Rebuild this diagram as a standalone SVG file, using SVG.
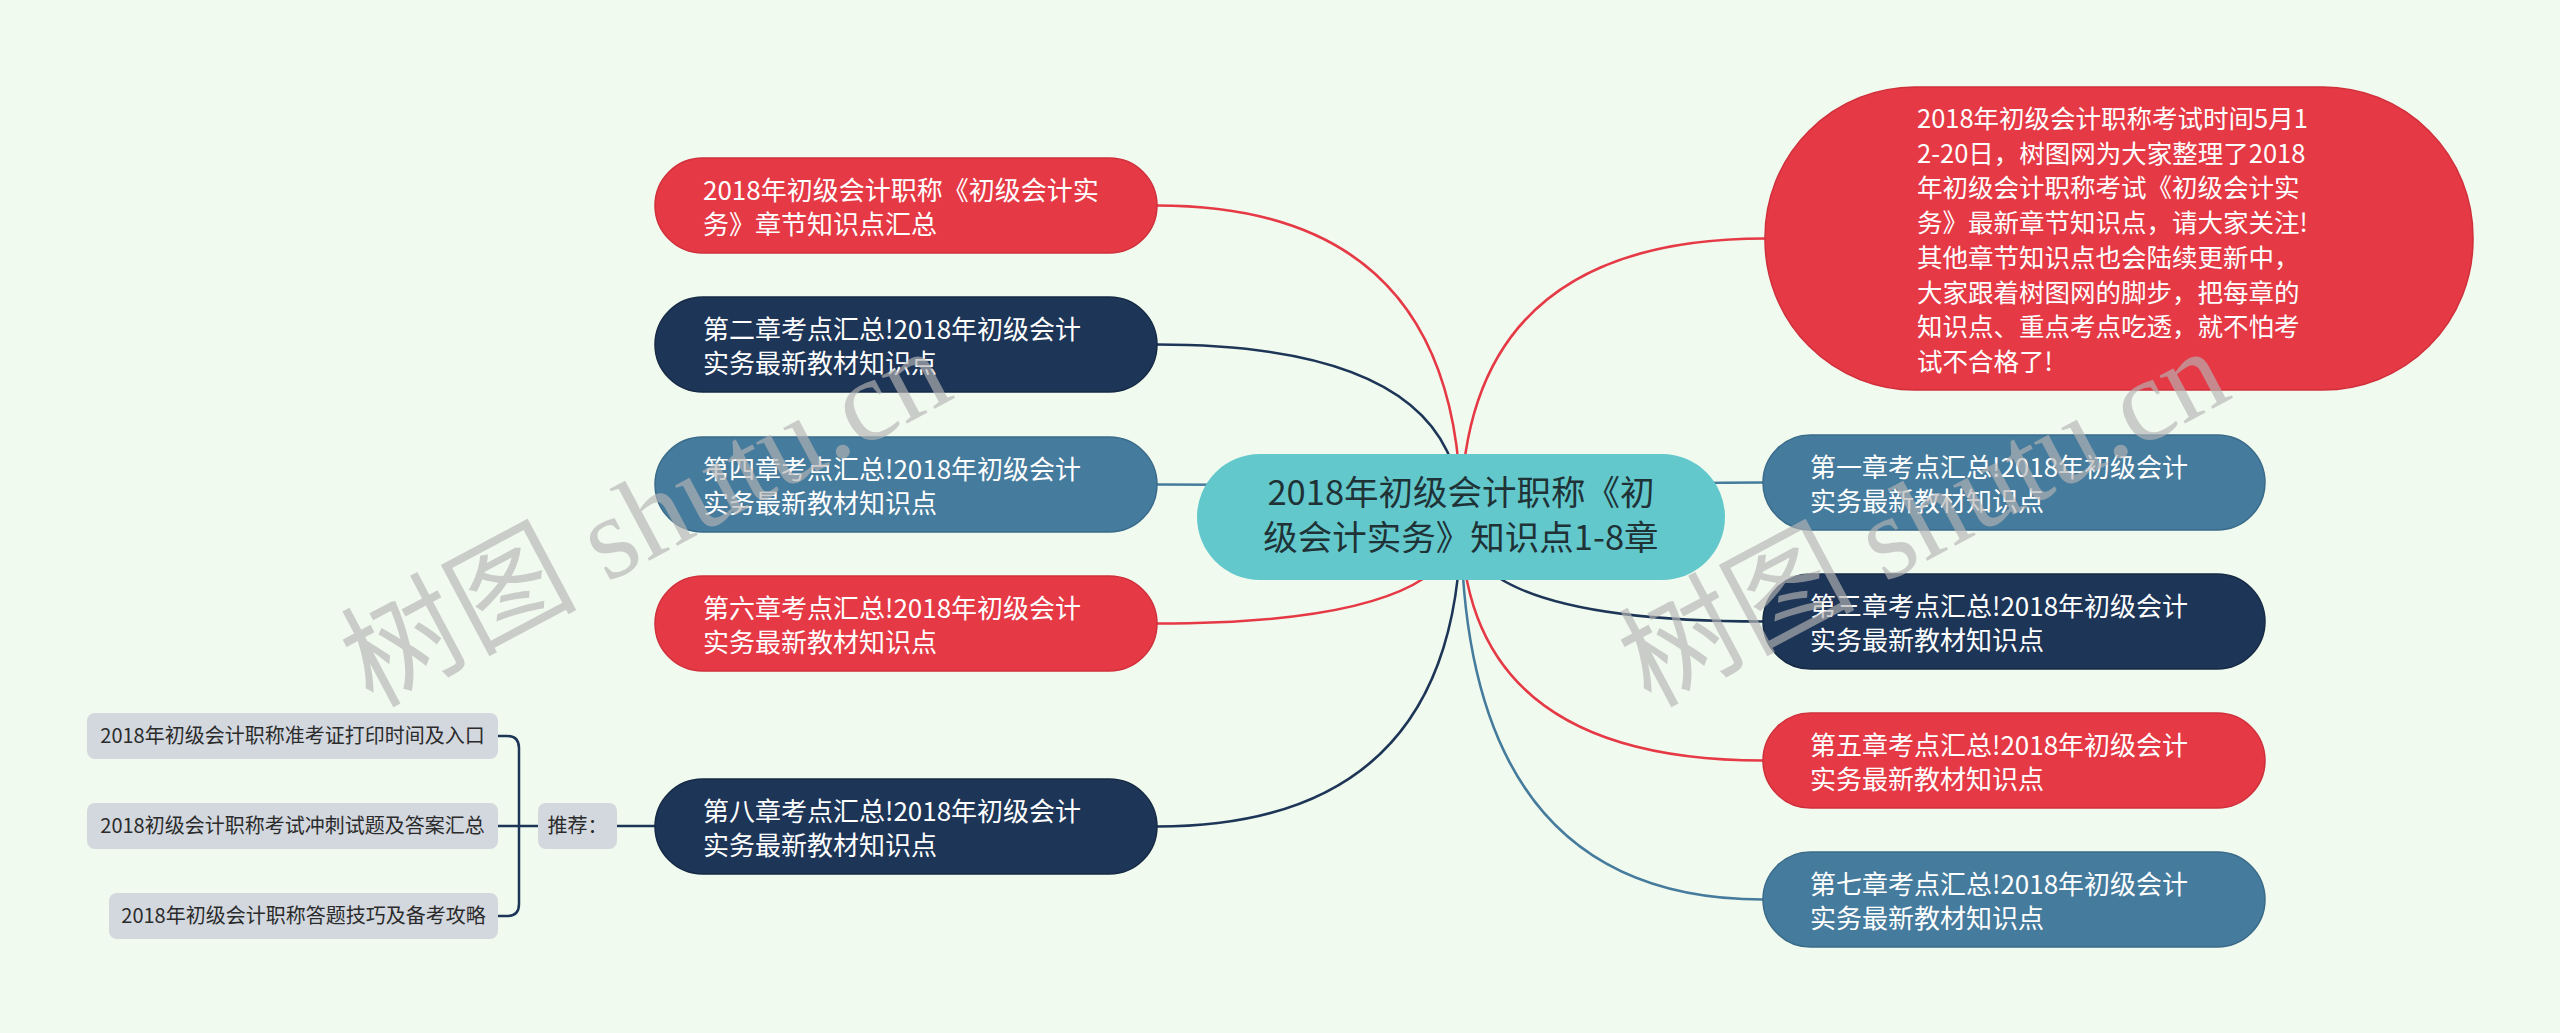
<svg xmlns="http://www.w3.org/2000/svg" width="2560" height="1033" viewBox="0 0 2560 1033">
<style>
.bg{fill:#F1FAEE}
.red{fill:#E63946;stroke:#D0303C;stroke-width:1.5}
.navy{fill:#1D3557;stroke:#162A46;stroke-width:1.5}
.steel{fill:#457B9D;stroke:#3A6B8A;stroke-width:1.5}
.root{fill:#62C8CC}
.gray{fill:#D3D8DF}
.t{font-family:"Noto Sans CJK SC","Noto Sans",sans-serif;font-size:26px;fill:#FFFFFF}
.tb{font-size:25.5px}
.rt{font-family:"Noto Sans CJK SC","Noto Sans",sans-serif;font-size:34.5px;fill:#1F3236;text-anchor:middle}
.gt{font-family:"Noto Sans CJK SC","Noto Sans",sans-serif;font-size:20px;fill:#2B2B2B;text-anchor:middle}
.c{fill:none;stroke-width:2.5}
.cr{stroke:#E63946}.cn{stroke:#1D3557}.cs{stroke:#457B9D}
.wm{font-family:"Liberation Serif","DejaVu Serif","Noto Sans CJK SC",serif;font-size:118px;font-weight:normal;fill:#B5B5B5;opacity:0.65}
</style>
<rect class="bg" x="0" y="0" width="2560" height="1033"/>
<g id="connectors">
<path class="c cr" d="M1461 517 Q1461 205.5 1157 205.5"/>
<path class="c cn" d="M1461 517 Q1461 344.5 1157 344.5"/>
<path class="c cs" d="M1461 517 Q1461 484.5 1157 484.5"/>
<path class="c cr" d="M1461 517 Q1461 623.5 1157 623.5"/>
<path class="c cn" d="M1461 517 Q1461 826.5 1157 826.5"/>
<path class="c cr" d="M1461 517 Q1461 238.5 1765 238.5"/>
<path class="c cs" d="M1461 517 Q1461 482.5 1763 482.5"/>
<path class="c cn" d="M1461 517 Q1461 621.5 1763 621.5"/>
<path class="c cr" d="M1461 517 Q1461 760.5 1763 760.5"/>
<path class="c cs" d="M1461 517 Q1461 899.5 1763 899.5"/>
<path class="c cn" d="M617 826 H655"/>
<path class="c cn" d="M538 826 H498"/>
<path class="c cn" d="M498 736 H507 Q519 736 519 748 V904 Q519 916 507 916 H498"/>
</g>
<g id="root">
<rect class="root" x="1197" y="454" width="528" height="126" rx="63"/>
<text class="rt" x="1461" y="505">2018年初级会计职称《初</text>
<text class="rt" x="1461" y="550">级会计实务》知识点1-8章</text>
</g>
<g id="n1">
<rect class="red" x="655" y="158" width="502" height="95" rx="47.5"/>
<text class="t" x="703" y="199.5">2018年初级会计职称《初级会计实</text>
<text class="t" x="703" y="233.5">务》章节知识点汇总</text>
</g>
<g id="n2">
<rect class="navy" x="655" y="297" width="502" height="95" rx="47.5"/>
<text class="t" x="703" y="338.5">第二章考点汇总!2018年初级会计</text>
<text class="t" x="703" y="372.5">实务最新教材知识点</text>
</g>
<g id="n4">
<rect class="steel" x="655" y="437" width="502" height="95" rx="47.5"/>
<text class="t" x="703" y="478.5">第四章考点汇总!2018年初级会计</text>
<text class="t" x="703" y="512.5">实务最新教材知识点</text>
</g>
<g id="n6">
<rect class="red" x="655" y="576" width="502" height="95" rx="47.5"/>
<text class="t" x="703" y="617.5">第六章考点汇总!2018年初级会计</text>
<text class="t" x="703" y="651.5">实务最新教材知识点</text>
</g>
<g id="n8">
<rect class="navy" x="655" y="779" width="502" height="95" rx="47.5"/>
<text class="t" x="703" y="820.5">第八章考点汇总!2018年初级会计</text>
<text class="t" x="703" y="854.5">实务最新教材知识点</text>
</g>
<g id="big">
<rect class="red" x="1765" y="87" width="708" height="303" rx="150"/>
<text class="t tb" x="1917" y="128">2018年初级会计职称考试时间5月1</text>
<text class="t tb" x="1917" y="162.7">2-20日，树图网为大家整理了2018</text>
<text class="t tb" x="1917" y="197.4">年初级会计职称考试《初级会计实</text>
<text class="t tb" x="1917" y="232.1">务》最新章节知识点，请大家关注!</text>
<text class="t tb" x="1917" y="266.8">其他章节知识点也会陆续更新中，</text>
<text class="t tb" x="1917" y="301.5">大家跟着树图网的脚步，把每章的</text>
<text class="t tb" x="1917" y="336.2">知识点、重点考点吃透，就不怕考</text>
<text class="t tb" x="1917" y="370.9">试不合格了!</text>
</g>
<g id="r1">
<rect class="steel" x="1763" y="435" width="502" height="95" rx="47.5"/>
<text class="t" x="1810" y="476.5">第一章考点汇总!2018年初级会计</text>
<text class="t" x="1810" y="510.5">实务最新教材知识点</text>
</g>
<g id="r3">
<rect class="navy" x="1763" y="574" width="502" height="95" rx="47.5"/>
<text class="t" x="1810" y="615.5">第三章考点汇总!2018年初级会计</text>
<text class="t" x="1810" y="649.5">实务最新教材知识点</text>
</g>
<g id="r5">
<rect class="red" x="1763" y="713" width="502" height="95" rx="47.5"/>
<text class="t" x="1810" y="754.5">第五章考点汇总!2018年初级会计</text>
<text class="t" x="1810" y="788.5">实务最新教材知识点</text>
</g>
<g id="r7">
<rect class="steel" x="1763" y="852" width="502" height="95" rx="47.5"/>
<text class="t" x="1810" y="893.5">第七章考点汇总!2018年初级会计</text>
<text class="t" x="1810" y="927.5">实务最新教材知识点</text>
</g>
<g id="rec">
<rect class="gray" x="538" y="803" width="79" height="46" rx="8"/>
<text class="gt" x="577.5" y="833">推荐：</text>
</g>
<g id="s1">
<rect class="gray" x="87" y="713" width="411" height="46" rx="8"/>
<text class="gt" x="292.5" y="743">2018年初级会计职称准考证打印时间及入口</text>
</g>
<g id="s2">
<rect class="gray" x="87" y="803" width="411" height="46" rx="8"/>
<text class="gt" x="292.5" y="833">2018初级会计职称考试冲刺试题及答案汇总</text>
</g>
<g id="s3">
<rect class="gray" x="109" y="893" width="389" height="46" rx="8"/>
<text class="gt" x="303.5" y="923">2018年初级会计职称答题技巧及备考攻略</text>
</g>
<g id="watermark">
<text class="wm" x="372" y="708" transform="rotate(-28 372 708)">树图 shutu.cn</text>
<text class="wm" x="1650" y="708" transform="rotate(-28 1650 708)">树图 shutu.cn</text>
</g>
</svg>
